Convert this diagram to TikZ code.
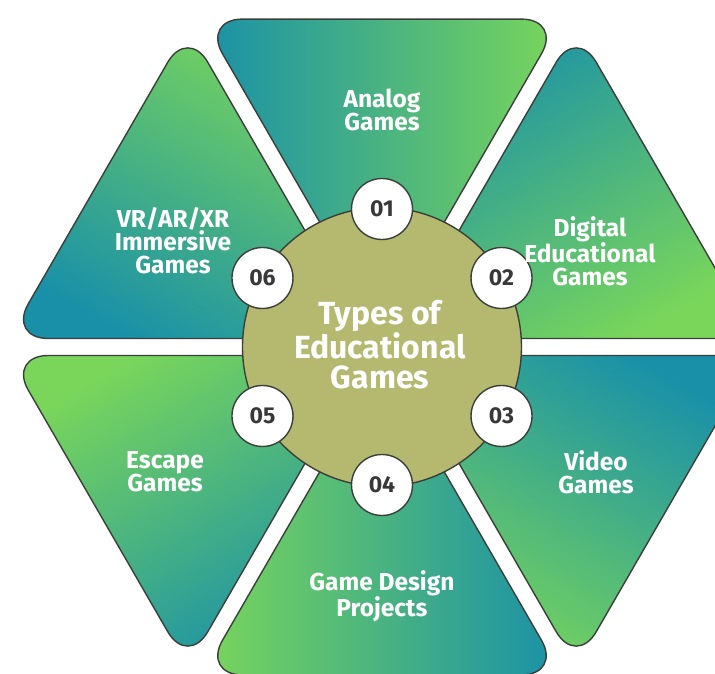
\documentclass[tikz,border=0pt]{standalone}
\usepackage{fontspec}
\setmainfont{Fira Sans}
\usepackage{tikz}

\definecolor{tealblue}{HTML}{1990A8}
\definecolor{leafgreen}{HTML}{7AD65A}
\definecolor{hubolive}{HTML}{B5B86F}
\definecolor{edgegray}{HTML}{3A3F3A}
\definecolor{numgray}{HTML}{383838}

\begin{document}
\begin{tikzpicture}[x = 1pt, y = 1pt,
   petal/.style = {draw = edgegray, line width = 1.4pt, rounded corners = 40pt,
                   top color = tealblue, bottom color = leafgreen},
   label/.style = {align = center, text = white, font = \bfseries\fontsize{24.5}{23}\selectfont},
   badge/.style = {shape = circle, draw = edgegray, line width = 1.4pt, fill = white,
                   minimum size = 61pt, inner sep = 0pt, text = numgray,
                   font = \bfseries\fontsize{23}{23}\selectfont}]
   \useasboundingbox (-382,-327) rectangle (333,347);

   % six triangles of the hexagon, apex at the middle
   \path[petal, shading angle = 90] (90:17) -- ++(60:359) -- ++(180:359) -- cycle;
   \path[petal, shading angle = 30] (30:17) -- ++(0:359) -- ++(120:359) -- cycle;
   \path[petal, shading angle = -30] (-30:17) -- ++(-60:359) -- ++(60:359) -- cycle;
   \path[petal, shading angle = -90] (-90:17) -- ++(-120:359) -- ++(0:359) -- cycle;
   \path[petal, shading angle = -150] (210:17) -- ++(180:359) -- ++(-60:359) -- cycle;
   \path[petal, shading angle = 150] (150:17) -- ++(120:359) -- ++(240:359) -- cycle;

   % centre disc
   \node(hub) at (0,0) [shape = circle, draw = edgegray, line width = 1.4pt, fill = hubolive,
        minimum size = 279pt, inner sep = 0pt] {};
   \node(title) at (-2,2) [align = center, text = white,
        font = \bfseries\fontsize{32}{30}\selectfont] {Types of\\Educational\\Games};

   % numbers round the disc
   \node(num01) at (90:138) [badge] {01};
   \node(num02) at (30:138) [badge] {02};
   \node(num03) at (-30:138) [badge] {03};
   \node(num04) at (-90:138) [badge] {04};
   \node(num05) at (210:138) [badge] {05};
   \node(num06) at (150:138) [badge] {06};

   % triangle texts
   \node(analog) at (0,237) [label] {Analog\\Games};
   \node(digital) at (208,96) [label] {Digital\\Educational\\Games};
   \node(video) at (214,-125) [label] {Video\\Games};
   \node(design) at (0,-249) [label] {Game Design\\Projects};
   \node(escape) at (-217,-125) [label] {Escape\\Games};
   \node(immersive) at (-209,106) [label] {VR/AR/XR\\Immersive\\Games};
\end{tikzpicture}
\end{document}
